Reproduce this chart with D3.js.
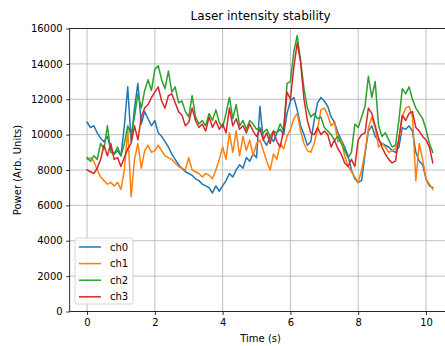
<!DOCTYPE html>
<html><head><meta charset="utf-8">
<script src="https://cdn.jsdelivr.net/npm/d3@7"></script>
<style>body{margin:0;background:#fff}svg{display:block;font-family:"DejaVu Sans",sans-serif}</style>
</head><body><svg id="c" width="445" height="346"></svg>
<script>
const seriesNames = ["ch0","ch1","ch2","ch3"];
const colors = ["#1f77b4","#ff7f0e","#2ca02c","#d62728"];
const tStep = 0.1;
const ch0 = [10700,10400,10500,10100,9800,9600,9900,9200,8900,9100,8800,10500,12700,9600,11500,12900,10600,11300,10900,10500,10800,10100,9900,9600,9300,8900,8600,8300,8100,7900,7800,7700,7500,7400,7200,7100,7000,6700,7100,6800,7100,7400,7800,7600,8000,8300,8100,8700,8500,8900,8700,11600,9700,9400,9900,9600,10100,10300,10000,11200,11900,12100,11400,10500,10000,9400,9600,10800,11800,12100,11900,11600,11000,10700,10100,9700,9300,8800,8000,7500,7300,7400,8900,10200,10500,9900,9700,9500,9400,9300,9100,9000,9300,10400,10300,10500,10200,9000,8500,8300,7500,7100,7000];
const ch1 = [8600,8700,8500,8000,7600,7400,7200,7300,7100,7300,6900,8000,10300,6500,8600,9500,8100,9100,9400,9000,9100,9400,9100,8800,8700,8600,8400,8200,8100,8000,8700,8000,7900,7800,7600,7800,7700,7500,8000,8600,9300,8600,10100,9000,10200,8800,9900,9100,9700,8800,9500,9700,9100,8500,8000,8900,8600,9500,9200,9900,10300,10900,11200,10200,9500,9100,9000,9500,10300,11400,11500,11100,10500,10700,9600,9700,8800,8200,7900,7600,7300,8000,9000,10400,11000,10400,9300,9500,9300,9000,9100,9200,9700,11000,11500,11600,11000,7400,9500,8600,7500,7200,6900];
const ch2 = [8700,8500,8800,8600,9500,9200,10500,9000,8900,9300,8800,9500,10500,10000,11000,12300,11500,12500,13100,12500,13700,13900,13100,12600,13600,12400,12700,11800,11900,11300,11000,12200,11000,10600,10800,10500,11200,10800,11400,10700,10400,11200,12100,10900,11700,10500,10800,10300,10800,10600,10300,10400,10100,10300,9900,10200,10100,10600,10200,12900,13000,14700,15600,14200,12600,11500,11000,11200,10900,11000,10400,10200,10000,9700,9900,9500,9100,8700,9000,10600,10400,11000,11600,13300,12100,13000,10500,9900,10100,9700,9300,9400,10800,12600,12300,12700,12000,11500,11200,10900,10300,9500,9000];
const ch3 = [8000,7900,7800,8100,8600,9400,8800,9500,8600,8700,8200,8700,9200,9500,10500,9700,11000,11500,11700,12100,12400,12700,11900,11500,12200,12300,11800,11300,11100,10500,10700,11500,10800,10400,10600,10200,11000,10400,10800,10300,10600,10100,11500,10500,10900,10300,10500,10100,10600,10200,9900,10300,9700,10100,9500,10200,9600,9300,10300,12400,12000,13800,15200,14100,12000,10800,10100,10000,10400,10000,10200,10000,9300,9700,9200,8900,8400,8200,8600,8200,9700,10000,10100,11500,11200,10500,9800,9300,8900,8600,8400,8500,9800,11100,10800,11200,11300,10400,10200,9900,9700,9300,8400];
const yTicks = [0,2000,4000,6000,8000,10000,12000,14000,16000];
const xTicks = [0,2,4,6,8,10];
const allSeries = [ch0,ch1,ch2,ch3];

const svg = d3.select("#c");
const L = 69.7, R = 451.5, T = 28.5, B = 311.5;
const x = d3.scaleLinear().domain([-0.512, 10.752]).range([L, R]);
const y = d3.scaleLinear().domain([0, 16000]).range([B, T]);

svg.append("defs").append("clipPath").attr("id","clip")
  .append("rect").attr("x",L).attr("y",T).attr("width",R-L).attr("height",B-T);

// grid
const g = svg.append("g");
g.selectAll(".gx").data(xTicks).enter().append("line")
  .attr("x1",d=>x(d)).attr("x2",d=>x(d)).attr("y1",T).attr("y2",B)
  .attr("stroke","#b0b0b0").attr("stroke-width",0.8);
g.selectAll(".gy").data(yTicks).enter().append("line")
  .attr("x1",L).attr("x2",R).attr("y1",d=>y(d)).attr("y2",d=>y(d))
  .attr("stroke","#b0b0b0").attr("stroke-width",0.8);

// lines
const line = d3.line().x((d,i)=>x(i*tStep)).y(d=>y(d));
const lg = svg.append("g").attr("clip-path","url(#clip)");
allSeries.forEach((s,k)=>{
  lg.append("path").datum(s).attr("d",line).attr("fill","none")
    .attr("stroke",colors[k]).attr("stroke-width",1.5)
    .attr("stroke-linejoin","round").attr("stroke-linecap","square");
});

// axes
const xa = svg.append("g").attr("transform",`translate(0,${B})`)
  .call(d3.axisBottom(x).tickValues(xTicks).tickSize(3.5).tickPadding(3.5).tickFormat(d3.format("d")));
const ya = svg.append("g").attr("transform",`translate(${L},0)`)
  .call(d3.axisLeft(y).tickValues(yTicks).tickSize(3.5).tickPadding(3.5).tickFormat(d3.format("d")));
[xa,ya].forEach(a=>{
  a.select(".domain").remove();
  a.selectAll(".tick line").attr("stroke","#000").attr("stroke-width",0.8);
  a.selectAll("text").attr("font-size","10px").attr("fill","#000").attr("font-family","DejaVu Sans");
});
// spines
svg.append("rect").attr("x",L).attr("y",T).attr("width",R-L).attr("height",B-T)
  .attr("fill","none").attr("stroke","#000").attr("stroke-width",0.8);

// title & labels
svg.append("text").attr("x",(L+R)/2).attr("y",20).attr("text-anchor","middle")
  .attr("font-size","12px").text("Laser intensity stability");
svg.append("text").attr("x",(L+R)/2).attr("y",342).attr("text-anchor","middle")
  .attr("font-size","10px").text("Time (s)");
svg.append("text").attr("transform",`translate(21,${(T+B)/2}) rotate(-90)`).attr("text-anchor","middle")
  .attr("font-size","10px").text("Power (Arb. Units)");

// legend
const leg = svg.append("g");
leg.append("rect").attr("x",75).attr("y",238).attr("width",58).attr("height",66).attr("rx",2.5)
  .attr("fill","#fff").attr("fill-opacity",0.8).attr("stroke","#cccccc").attr("stroke-width",0.8);
seriesNames.forEach((n,k)=>{
  const yy = 247 + k*16.6;
  leg.append("line").attr("x1",79).attr("x2",101).attr("y1",yy).attr("y2",yy)
    .attr("stroke",colors[k]).attr("stroke-width",1.5);
  leg.append("text").attr("x",110).attr("y",yy+3.6).attr("font-size","10px").text(n);
});
</script></body></html>
